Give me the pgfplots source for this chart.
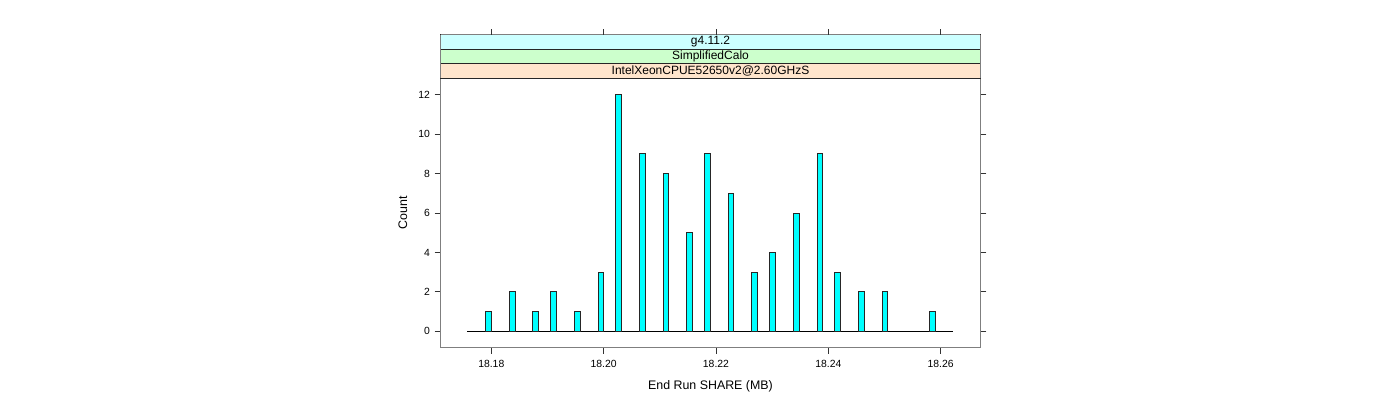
\documentclass[border=0pt]{standalone}
\usepackage{pgfplots}
\pgfplotsset{compat=1.18}
\usepackage{fontspec}
\setmainfont{Liberation Sans}
\definecolor{barfill}{HTML}{00FFFF}
\definecolor{stripA}{HTML}{FFE5CC}
\definecolor{stripB}{HTML}{CCFFCC}
\definecolor{stripC}{HTML}{CCFFFF}
\definecolor{frame}{HTML}{7F7F7F}
\begin{document}
\begin{tikzpicture}[x=0.75pt,y=0.75pt]
\path[use as bounding box] (0,0) rectangle (1400,400);
\begin{axis}[
    at={(330.5pt,39.2pt)}, anchor=south west,
    scale only axis, width=404.7pt, height=202.05pt,
    xmin=18.17099, xmax=18.26705,
    ymin=-0.832, ymax=12.832,
    xtick={18.18,18.20,18.22,18.24,18.26},
    xticklabels={18.18,18.20,18.22,18.24,18.26},
    ytick={0,2,...,12},
    xtick pos=left,
    tick align=outside, major tick length=4.5pt,
    axis line style={frame, line width=0.8pt},
    tick style={black!80, line width=0.6pt},
    /pgf/number format/assume math mode=true,
    tick label style={font=\fontsize{7.8}{9}\selectfont},
    xticklabel style={yshift=-1.5pt},
    label style={font=\fontsize{9.3}{11}\selectfont},
    xlabel={End Run SHARE (MB)},
    ylabel={Count},
    xlabel style={yshift=-2.5pt},
    ylabel style={yshift=1.5pt},
  ]
% baseline under the bars
\addplot[black, line width=0.8pt, no marks] coordinates {(18.17573,0) (18.26224,0)};
\addplot[ybar, bar width=0.00102, fill=barfill, draw=black!85, line width=0.6pt]
coordinates {
  (18.17950,1)
  (18.18374,2)
  (18.18790,1)
  (18.19104,2)
  (18.19531,1)
  (18.19953,3)
  (18.20261,12)
  (18.20688,9)
  (18.21110,8)
  (18.21532,5)
  (18.21845,9)
  (18.22267,7)
  (18.22689,3)
  (18.23002,4)
  (18.23429,6)
  (18.23851,9)
  (18.24159,3)
  (18.24587,2)
  (18.25008,2)
  (18.25850,1)
};
\end{axis}
% strips
\draw[black!85, fill=stripA] (440.7,321.7) rectangle (980.3,336.3);
\draw[black!85, fill=stripB] (440.7,336.3) rectangle (980.3,350.7);
\draw[black!85, fill=stripC] (440.7,350.7) rectangle (980.3,365.3);
\draw[frame, line width=0.8pt] (440.7,365.3) -- (980.3,365.3);
\draw[frame, line width=0.8pt] (440.7,321.7) -- (440.7,365.3) (980.3,321.7) -- (980.3,365.3);
% top ticks above the strips, at 18.18 ... 18.26
\foreach \xx in {491.31,603.66,716.00,828.35,940.70}
  \draw[black!80, line width=0.6pt] (\xx,365.3) -- ++(0,6);
\node[font=\fontsize{9}{11}\selectfont] at (710.5,329) {IntelXeonCPUE52650v2@2.60GHzS};
\node[font=\fontsize{9}{11}\selectfont] at (710.5,343.5) {SimplifiedCalo};
\node[font=\fontsize{9}{11}\selectfont] at (710.5,358) {g4.11.2};
\end{tikzpicture}
\end{document}
